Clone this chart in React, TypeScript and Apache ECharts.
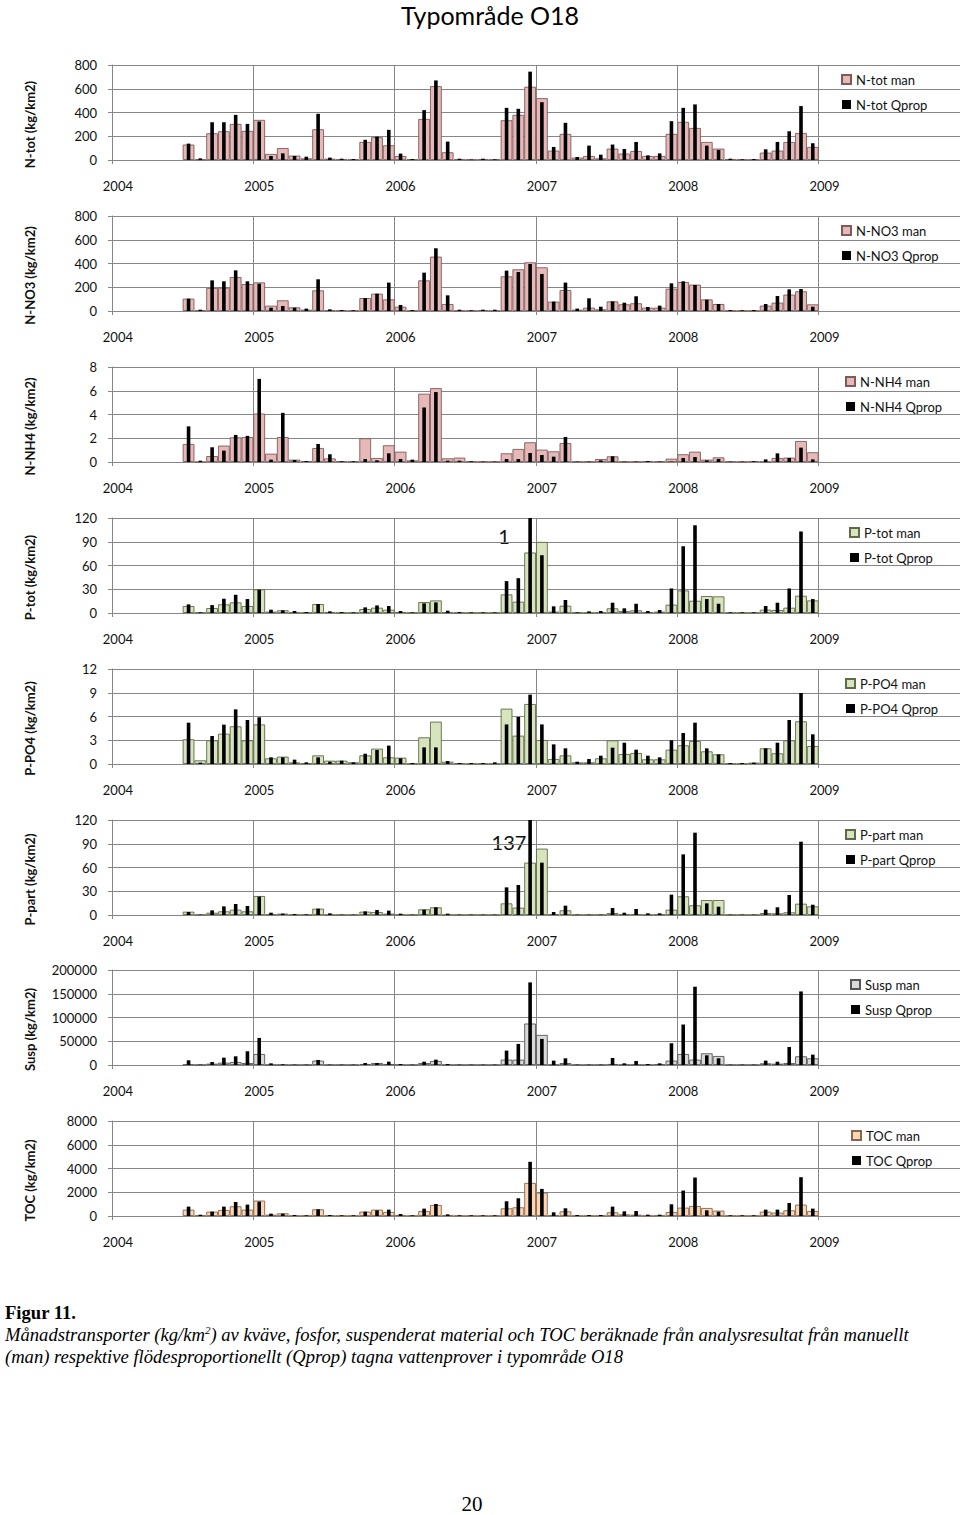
import React, { useEffect, useRef } from "react";
import * as echarts from "echarts";

// ---- tick labels / categories ----
const years = ["2004", "2005", "2006", "2007", "2008", "2009"];
const monthNums = ["01", "02", "03", "04", "05", "06", "07", "08", "09", "10", "11", "12"];
const categories: string[] = years.flatMap((y) => monthNums.map((m) => `${y}-${m}`));

// data run from Jul 2004 to Dec 2008 (54 months)
const LEAD_EMPTY = 6;
const TRAIL_EMPTY = 12;

// ---- series values (Jul 2004 .. Dec 2008) ----
const ntotMan = [130, 5, 225, 242, 304, 245, 338, 51, 101, 37, 14, 259, 11, 8, 5, 152, 192, 124, 34, 8, 346, 622, 65, 8, 5, 8, 5, 335, 380, 617, 521, 79, 220, 20, 34, 14, 96, 54, 76, 34, 34, 220, 321, 270, 152, 96, 8, 5, 5, 62, 79, 152, 228, 110];
const ntotQ = [138, 14, 318, 318, 380, 304, 324, 34, 56, 34, 28, 389, 20, 11, 8, 170, 197, 254, 54, 8, 420, 670, 155, 11, 3, 11, 5, 439, 431, 744, 487, 110, 313, 25, 121, 45, 130, 93, 152, 39, 56, 327, 439, 468, 121, 85, 11, 5, 8, 90, 152, 242, 454, 141];

const no3Man = [104, 5, 194, 196, 286, 227, 241, 45, 90, 31, 11, 174, 6, 6, 3, 109, 146, 98, 36, 3, 258, 458, 59, 3, 3, 8, 3, 292, 351, 410, 368, 79, 177, 11, 28, 14, 81, 56, 65, 28, 28, 188, 244, 222, 98, 59, 3, 3, 3, 45, 70, 138, 166, 56];
const no3Q = [104, 11, 258, 250, 342, 250, 230, 28, 42, 28, 20, 267, 14, 8, 6, 109, 146, 239, 51, 8, 323, 528, 132, 11, 6, 11, 11, 340, 328, 396, 312, 79, 239, 20, 107, 36, 81, 70, 124, 34, 45, 233, 250, 219, 95, 59, 8, 6, 8, 59, 126, 182, 185, 36];

const nh4Man = [1.52, 0, 0.5, 1.38, 2.08, 2.1, 4.08, 0.7, 2.1, 0.2, 0.08, 1.18, 0.3, 0.08, 0.05, 2.0, 0.34, 1.41, 0.87, 0.14, 5.75, 6.22, 0.31, 0.37, 0.05, 0.03, 0.03, 0.73, 1.1, 1.66, 1.04, 0.9, 1.6, 0.03, 0.03, 0.25, 0.48, 0.03, 0.03, 0.08, 0.06, 0.28, 0.65, 0.87, 0.2, 0.39, 0.03, 0.03, 0.08, 0.03, 0.34, 0.37, 1.77, 0.82];
const nh4Q = [3.0, 0.11, 1.24, 0.96, 2.28, 2.2, 7.0, 0.2, 4.14, 0.17, 0.08, 1.52, 0.65, 0.06, 0.06, 0.25, 0.14, 0.73, 0.25, 0.2, 4.59, 5.89, 0.11, 0.11, 0.06, 0.03, 0.03, 0.25, 0.25, 0.76, 0.59, 0.45, 2.11, 0.03, 0.03, 0.14, 0.48, 0.03, 0.03, 0.08, 0.03, 0.03, 0.34, 0.42, 0.14, 0.25, 0.03, 0.03, 0.06, 0.22, 0.73, 0.34, 1.21, 0.22];

const ptotMan = [8.8, 0.5, 6.3, 10.9, 13.4, 8.8, 29.8, 1.7, 3.4, 0.8, 0.4, 11.3, 1.2, 0.4, 0.4, 5, 6.7, 4.2, 1.2, 0.4, 13.8, 15.9, 0.8, 0.4, 0.4, 0.4, 0.4, 23.5, 14.3, 76.4, 89.8, 1.7, 9.2, 0.4, 0.4, 0.8, 5.9, 2.5, 3.4, 1.2, 1.7, 10.5, 28.5, 15.5, 21.4, 21, 0.4, 0.4, 0.4, 4.2, 3.8, 6.7, 21.8, 15.9];
const ptotQ = [10.9, 0.8, 10, 18, 23, 17.6, 29.4, 4.2, 3.4, 2.5, 1.3, 11.3, 2.1, 1.3, 0.8, 7.1, 9.6, 8.8, 2.5, 0.8, 12.2, 13.4, 2.9, 1.3, 0.8, 0.8, 0.8, 40.3, 44, 150, 73, 8.4, 16.4, 0.8, 2.1, 2.5, 13, 5.9, 11.7, 2.5, 3.8, 31, 84.3, 110.8, 17.6, 11.7, 0.8, 0.8, 0.8, 8.8, 13, 31, 103, 17.6];

const po4Man = [3.12, 0.46, 2.99, 3.83, 4.76, 2.99, 5.0, 0.72, 0.93, 0.2, 0.1, 1.09, 0.42, 0.42, 0.21, 1.09, 1.94, 0.84, 0.8, 0.05, 3.37, 5.35, 0.29, 0.1, 0.05, 0.05, 0.05, 6.99, 3.58, 7.58, 3.03, 0.63, 1.09, 0.21, 0.21, 0.72, 2.99, 1.26, 1.39, 0.59, 0.59, 1.81, 2.36, 2.91, 1.6, 1.22, 0.05, 0.05, 0.17, 1.98, 1.35, 2.99, 5.39, 2.27];
const po4Q = [5.22, 0.17, 3.54, 4.97, 6.9, 5.56, 5.9, 0.84, 0.84, 0.55, 0.21, 0.84, 0.29, 0.42, 0.21, 1.3, 1.77, 2.32, 0.72, 0.13, 2.1, 2.1, 0.38, 0.13, 0.13, 0.13, 0.21, 5.0, 5.94, 8.76, 5.0, 2.48, 1.98, 0.29, 0.63, 1.05, 2.06, 2.69, 1.81, 1.05, 0.84, 2.99, 3.92, 5.22, 1.98, 1.22, 0.13, 0.13, 0.17, 1.98, 2.69, 5.56, 8.97, 3.75];

const ppartMan = [4.2, 0.3, 2.9, 4.6, 6.7, 4.6, 24, 0.8, 1.7, 0.3, 0.3, 8, 0.3, 0.3, 0.3, 4.2, 3.8, 1.7, 0.3, 0.3, 7.2, 9.7, 0.3, 0.3, 0.3, 0.3, 0.3, 14.7, 9.3, 66.1, 83.8, 1.2, 5.9, 0.3, 0.3, 0.3, 2.5, 0.8, 1.2, 0.3, 0.8, 6.7, 23.6, 12.2, 18.9, 18.9, 0.3, 0.3, 0.3, 2.5, 2.1, 3.4, 14.3, 10.9];
const ppartQ = [3.8, 0.4, 5.9, 10.9, 13.9, 11.4, 23.2, 2.9, 1.7, 1.3, 0.8, 8, 2.1, 0.4, 0.4, 4.6, 6.3, 5.5, 1.7, 0.4, 6.7, 9.7, 1.7, 0.4, 0.4, 0.4, 0.4, 34.9, 37.9, 137, 66.1, 3.8, 11.8, 0.4, 0.4, 0.4, 8.8, 2.9, 7.6, 2.1, 2.1, 25.7, 76.6, 104, 14.7, 10.5, 0.4, 0.4, 0.4, 6.7, 9.7, 25.3, 92.6, 13];

const suspMan = [1000, 300, 2800, 4900, 6300, 4200, 23200, 500, 500, 300, 300, 9200, 300, 300, 300, 2100, 4200, 2100, 300, 300, 4200, 8500, 300, 300, 300, 300, 300, 11300, 11300, 87300, 63400, 500, 4200, 300, 300, 300, 2100, 700, 700, 300, 1400, 9200, 23200, 11300, 24600, 19000, 300, 300, 300, 3500, 2800, 4200, 18300, 14100];
const suspQ = [9860, 700, 6300, 15500, 18300, 28900, 57000, 3500, 1400, 700, 700, 10600, 700, 700, 700, 4200, 4200, 7000, 2100, 700, 7000, 11300, 2100, 700, 700, 700, 700, 30300, 44400, 173900, 54900, 9200, 14100, 700, 700, 700, 14800, 3500, 8500, 2100, 3500, 45800, 85200, 164800, 20400, 14100, 700, 700, 700, 9200, 7000, 38000, 154900, 21800];

const tocMan = [535, 60, 366, 507, 817, 535, 1296, 110, 225, 30, 30, 563, 60, 30, 30, 366, 535, 338, 85, 30, 422, 930, 85, 30, 30, 30, 30, 648, 732, 2789, 1972, 85, 394, 30, 30, 30, 310, 140, 113, 30, 60, 338, 704, 845, 676, 451, 30, 30, 30, 366, 282, 479, 958, 422];
const tocQ = [790, 110, 366, 790, 1183, 958, 1211, 197, 197, 85, 56, 563, 85, 56, 56, 366, 479, 535, 169, 56, 620, 1014, 140, 56, 56, 56, 56, 1239, 1493, 4563, 2282, 310, 648, 85, 85, 85, 789, 394, 422, 113, 113, 986, 2141, 3239, 479, 366, 56, 56, 56, 535, 535, 1098, 3267, 620];

// ---- axis names / series names / scales ----
const axisNames = ["N-tot (kg/km2)", "N-NO3 (kg/km2)", "N-NH4 (kg/km2)", "P-tot (kg/km2)", "P-PO4 (kg/km2)", "P-part (kg/km2)", "Susp (kg/km2)", "TOC (kg/km2)"];
const manNames = ["N-tot man", "N-NO3 man", "N-NH4 man", "P-tot man", "P-PO4 man", "P-part man", "Susp man", "TOC man"];
const qNames = ["N-tot Qprop", "N-NO3 Qprop", "N-NH4 Qprop", "P-tot Qprop", "P-PO4 Qprop", "P-part Qprop", "Susp Qprop", "TOC Qprop"];
const yMax = [800, 800, 8, 120, 12, 120, 200000, 8000];
const yInterval = [200, 200, 2, 30, 3, 30, 50000, 2000];
const manData = [ntotMan, no3Man, nh4Man, ptotMan, po4Man, ppartMan, suspMan, tocMan];
const qData = [ntotQ, no3Q, nh4Q, ptotQ, po4Q, ppartQ, suspQ, tocQ];

// ---- styles ----
const PINK = { fill: "#E6B9B8", border: "#7E5B5B" };
const GREEN = { fill: "#D7E4BD", border: "#5E6A48" };
const GREY = { fill: "#D9D9D9", border: "#555555" };
const PEACH = { fill: "#FCD5B5", border: "#86674D" };
const panelColors = [PINK, PINK, PINK, GREEN, GREEN, GREEN, GREY, PEACH];
const panelTops = [65, 216, 367, 518, 669, 820, 970, 1121];
const legendLefts = [841, 841, 845, 849, 845, 845, 850, 851];
const PLOT_LEFT = 112;
const PLOT_W = 848;
const PLOT_H = 95;
const GRID = "#868686";
const FONT = "Lato, 'Open Sans', sans-serif";

const pad = (arr: number[]) => [
  ...Array(LEAD_EMPTY).fill(null),
  ...arr,
  ...Array(TRAIL_EMPTY).fill(null),
];

function buildOption() {
  const grid: any[] = [];
  const xAxis: any[] = [];
  const yAxis: any[] = [];
  const series: any[] = [];
  const legend: any[] = [];
  const graphic: any[] = [];

  graphic.push({
    type: "text",
    x: 490,
    y: 15,
    style: {
      text: "Typområde O18",
      font: `25px ${FONT}`,
      fill: "#000",
      textAlign: "center",
      textVerticalAlign: "middle",
    },
  });

  for (let k = 0; k < 8; k++) {
    const top = panelTops[k];
    grid.push({ left: PLOT_LEFT, top, width: PLOT_W, height: PLOT_H });
    xAxis.push({
      type: "category",
      gridIndex: k,
      data: categories,
      boundaryGap: true,
      axisLine: { show: true, lineStyle: { color: GRID, width: 1 } },
      axisTick: { show: true, interval: 11, length: 4, lineStyle: { color: GRID } },
      axisLabel: {
        interval: 11,
        formatter: (v: string) => v.slice(0, 4),
        margin: 19,
        fontSize: 13,
        fontFamily: FONT,
        color: "#111",
      },
      splitLine: { show: true, interval: 11, lineStyle: { color: GRID, width: 1 } },
    });
    xAxis.push({
      type: "category",
      gridIndex: k,
      data: categories,
      boundaryGap: true,
      show: false,
    });
    yAxis.push({
      type: "value",
      gridIndex: k,
      min: 0,
      max: yMax[k],
      interval: yInterval[k],
      axisLine: { show: true, lineStyle: { color: GRID, width: 1 } },
      axisTick: { show: true, length: 4, lineStyle: { color: GRID } },
      axisLabel: {
        formatter: (v: number) => String(v),
        fontSize: 13,
        fontFamily: FONT,
        color: "#111",
        margin: 15,
      },
      splitLine: { show: true, lineStyle: { color: GRID, width: 1 } },
    });
    const col = panelColors[k];
    series.push({
      type: "bar",
      name: manNames[k],
      xAxisIndex: 2 * k,
      yAxisIndex: k,
      data: pad(manData[k]),
      barCategoryGap: "0%",
      itemStyle: { color: col.fill, borderColor: col.border, borderWidth: 0.9 },
    });
    series.push({
      type: "bar",
      name: qNames[k],
      xAxisIndex: 2 * k + 1,
      yAxisIndex: k,
      data: pad(qData[k]),
      barWidth: 3.6,
      itemStyle: { color: "#000" },
    });
    legend.push({
      data: [manNames[k], qNames[k]],
      orient: "vertical",
      left: legendLefts[k],
      top: top + 8,
      itemWidth: 9,
      itemHeight: 9,
      itemGap: 12,
      itemTextGap: 3,
      icon: "rect",
      padding: 0,
      selectedMode: false,
      textStyle: { fontSize: 13, fontFamily: FONT, color: "#111" },
    });
    graphic.push({
      type: "text",
      x: 30,
      y: top + PLOT_H / 2 + 12,
      rotation: Math.PI / 2,
      style: {
        text: axisNames[k],
        font: `bold 13px ${FONT}`,
        fill: "#111",
        textAlign: "center",
        textVerticalAlign: "middle",
      },
    });
  }

  // clipped value annotations
  graphic.push({
    type: "text",
    x: 504,
    y: 536,
    style: { text: "1", font: `20px ${FONT}`, fill: "#111", textAlign: "center", textVerticalAlign: "middle" },
  });
  graphic.push({
    type: "text",
    x: 509,
    y: 842,
    style: { text: "137", font: `20px ${FONT}`, fill: "#111", textAlign: "center", textVerticalAlign: "middle" },
  });

  return {
    animation: false,
    backgroundColor: "#fff",
    grid,
    xAxis,
    yAxis,
    series,
    legend,
    graphic,
  };
}

export default function App() {
  const ref = useRef<HTMLDivElement>(null);
  useEffect(() => {
    document.body.style.margin = "0";
    if (!ref.current) return;
    const chart = echarts.init(ref.current, null, { renderer: "svg" });
    chart.setOption(buildOption() as any);
    return () => chart.dispose();
  }, []);

  const serif = "'Liberation Serif', 'Times New Roman', serif";
  return (
    <div style={{ position: "relative", width: 960, height: 1515, background: "#fff", overflow: "hidden" }}>
      <div ref={ref} style={{ position: "absolute", left: 0, top: 0, width: 960, height: 1290 }} />
      <div
        style={{
          position: "absolute",
          left: 5,
          top: 1302,
          fontFamily: serif,
          fontSize: 18.6,
          lineHeight: "22px",
          color: "#000",
          whiteSpace: "nowrap",
        }}
      >
        <div style={{ fontWeight: "bold" }}>Figur 11.</div>
        <div style={{ fontStyle: "italic" }}>
          Månadstransporter (kg/km
          <span style={{ fontSize: 11, verticalAlign: "super", lineHeight: 0 }}>2</span>) av kväve, fosfor, suspenderat material och TOC beräknade från analysresultat från manuellt
        </div>
        <div style={{ fontStyle: "italic" }}>
          (man) respektive flödesproportionellt (Qprop) tagna vattenprover i typområde O18
        </div>
      </div>
      <div
        style={{
          position: "absolute",
          left: 0,
          width: 944,
          top: 1494,
          textAlign: "center",
          fontFamily: serif,
          fontSize: 21,
          lineHeight: "20px",
        }}
      >
        20
      </div>
    </div>
  );
}
